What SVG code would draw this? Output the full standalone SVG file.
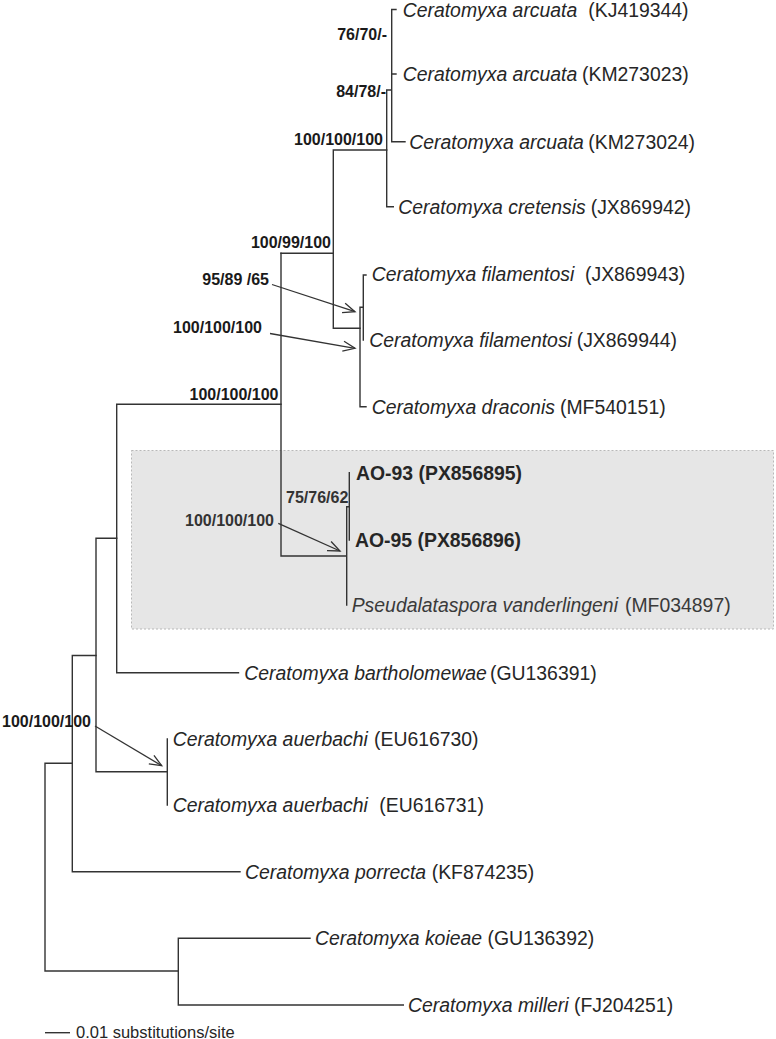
<svg xmlns="http://www.w3.org/2000/svg" width="776" height="1039" viewBox="0 0 776 1039">
<style>
.t{font-family:"Liberation Sans",Arial,sans-serif;font-size:19.4px;fill:#262626}
.i{font-style:italic}
.b{font-weight:bold}
.s{font-family:"Liberation Sans",Arial,sans-serif;font-size:16px;font-weight:bold;fill:#1a1a1a;text-anchor:end}
.br{fill:none;stroke:#333;stroke-width:1.4;stroke-linecap:square}
.ar{fill:none;stroke:#333;stroke-width:1.3}
</style>
<defs>
<marker id="arr" markerWidth="16" markerHeight="14" refX="13" refY="6" orient="auto" markerUnits="userSpaceOnUse">
<path d="M1,1 L13,6 L1,11" fill="none" stroke="#333" stroke-width="1.3"/>
</marker>
</defs>
<rect id="highlight" x="131.5" y="450.5" width="642" height="178.5" fill="#e6e6e6" stroke="#b8b8b8" stroke-width="1" stroke-dasharray="2,2"/>
<g id="connectors">
<path class="br" d="M45,763.3 V971 M45,763.3 H72.3 M45,971 H178.3 M178.3,938.3 V1005 M178.3,938.3 H310 M178.3,1005 H403.3"/>
<path class="br" d="M72.3,655.5 V871.7 M72.3,871.7 H240 M72.3,655.5 H96"/>
<path class="br" d="M96,538.3 V771.7 M96,771.7 H167.3 M167.3,739 V805 M96,538.3 H116.7"/>
<path class="br" d="M116.7,404.3 V672.7 M116.7,672.7 H238.5 M116.7,404.3 H281"/>
<path class="br" d="M281,253.3 V556 M281,556 H346.7 M346.7,506.7 V605 M346.7,506.7 H349.3 M349.3,472.7 V540"/>
<path class="br" d="M281,253.3 H333.3 M333.3,150 V328.3 M333.3,150 H386.7 M333.3,328.3 H360"/>
<path class="br" d="M386.7,90 V206.7 M386.7,206.7 H393.3 M386.7,90 H391.7 M391.7,9.5 V141.7 M391.7,9.5 H396 M391.7,74 H396 M391.7,141.7 H405"/>
<path class="br" d="M360,307.3 V406.7 M360,406.7 H366 M360,307.3 H363.3 M363.3,275 V340 M363.3,275 H366"/>
<path class="ar" d="M272,284.5 L355,311.7" marker-end="url(#arr)"/>
<path class="ar" d="M270,333.5 L355,348.3" marker-end="url(#arr)"/>
<path class="ar" d="M278.3,523.3 L340,551" marker-end="url(#arr)"/>
<path class="ar" d="M95,726 L161.7,765.7" marker-end="url(#arr)"/>
</g>
<g id="leaf-arcuata-KJ419344"><text class="t" y="16.5"><tspan class="i" x="402.7">Ceratomyxa arcuata</tspan><tspan x="588.3">(KJ419344)</tspan></text></g>
<g id="leaf-arcuata-KM273023"><text class="t" y="81"><tspan class="i" x="402.7">Ceratomyxa arcuata</tspan><tspan x="582">(KM273023)</tspan></text></g>
<g id="leaf-arcuata-KM273024"><text class="t" y="148.7"><tspan class="i" x="409.3">Ceratomyxa arcuata</tspan><tspan x="588.3">(KM273024)</tspan></text></g>
<g id="leaf-cretensis"><text class="t" y="213.7"><tspan class="i" x="398.3">Ceratomyxa cretensis</tspan><tspan x="590.7">(JX869942)</tspan></text></g>
<g id="leaf-filamentosi-JX869943"><text class="t" y="281.3"><tspan class="i" x="371.7">Ceratomyxa filamentosi</tspan><tspan x="585">(JX869943)</tspan></text></g>
<g id="leaf-filamentosi-JX869944"><text class="t" y="347"><tspan class="i" x="369.3">Ceratomyxa filamentosi</tspan><tspan x="576.7">(JX869944)</tspan></text></g>
<g id="leaf-draconis"><text class="t" y="413.7"><tspan class="i" x="371.7">Ceratomyxa draconis</tspan><tspan x="560">(MF540151)</tspan></text></g>
<g id="leaf-AO-93"><text class="t b" x="356" y="479.7">AO-93 (PX856895)</text></g>
<g id="leaf-AO-95"><text class="t b" x="355" y="547">AO-95 (PX856896)</text></g>
<g id="leaf-pseudalataspora"><text class="t" y="612" style="fill:#3a3a3a"><tspan class="i" x="351.7">Pseudalataspora vanderlingeni</tspan><tspan x="625">(MF034897)</tspan></text></g>
<g id="leaf-bartholomewae"><text class="t" y="680"><tspan class="i" x="244.3">Ceratomyxa bartholomewae</tspan><tspan x="490">(GU136391)</tspan></text></g>
<g id="leaf-auerbachi-EU616730"><text class="t" y="746"><tspan class="i" x="172.7">Ceratomyxa auerbachi</tspan><tspan x="374">(EU616730)</tspan></text></g>
<g id="leaf-auerbachi-EU616731"><text class="t" y="812"><tspan class="i" x="172.7">Ceratomyxa auerbachi</tspan><tspan x="379.3">(EU616731)</tspan></text></g>
<g id="leaf-porrecta"><text class="t" y="879"><tspan class="i" x="245">Ceratomyxa porrecta</tspan><tspan x="431.7">(KF874235)</tspan></text></g>
<g id="leaf-koieae"><text class="t" x="315" y="945.3"><tspan class="i">Ceratomyxa koieae</tspan> (GU136392)</text></g>
<g id="leaf-milleri"><text class="t" x="408" y="1012"><tspan class="i">Ceratomyxa milleri</tspan> (FJ204251)</text></g>
<g id="support-76-70"><text class="s" x="387" y="40">76/70/-</text></g>
<g id="support-84-78"><text class="s" x="386" y="96.5">84/78/-</text></g>
<g id="support-arcuata-cretensis"><text class="s" x="383" y="145">100/100/100</text></g>
<g id="support-100-99-100"><text class="s" x="331" y="248.3">100/99/100</text></g>
<g id="support-95-89-65"><text class="s" x="269" y="285" xml:space="preserve">95/89 /65</text></g>
<g id="support-filamentosi-draconis"><text class="s" x="262" y="333.3">100/100/100</text></g>
<g id="support-main-clade"><text class="s" x="278.5" y="399.5">100/100/100</text></g>
<g id="support-75-76-62"><text class="s" x="348.3" y="503.3" style="fill:#333">75/76/62</text></g>
<g id="support-box-clade"><text class="s" x="274" y="525.5" style="fill:#333">100/100/100</text></g>
<g id="support-auerbachi"><text class="s" x="91" y="726.7">100/100/100</text></g>
<g id="scale-bar">
<path class="br" d="M45,1032.7 H70" style="stroke-linecap:butt"/>
<text x="76" y="1038" style="font-family:'Liberation Sans',Arial,sans-serif;font-size:16.5px;fill:#262626">0.01 substitutions/site</text>
</g>
</svg>
